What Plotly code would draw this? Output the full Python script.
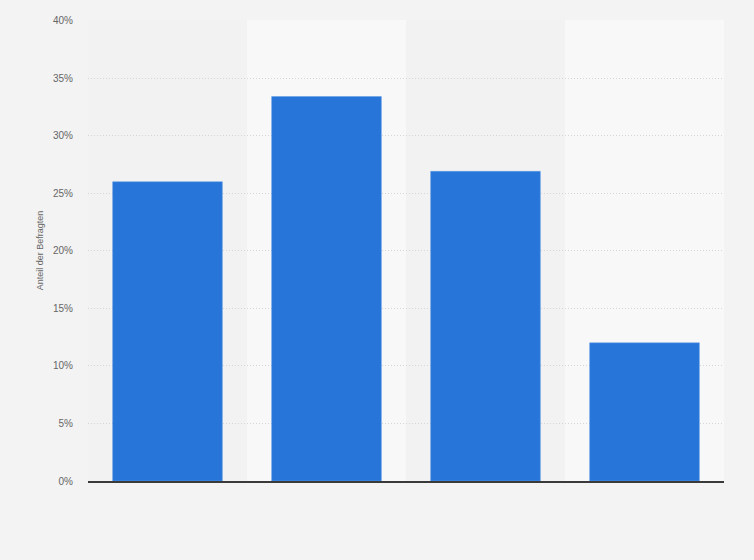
import plotly.graph_objects as go

# categories are not labelled in the source picture
categories = ["Gruppe 1", "Gruppe 2", "Gruppe 3", "Gruppe 4"]
shares = [26.0, 33.4, 26.9, 12.0]
y_ticks = [0, 5, 10, 15, 20, 25, 30, 35, 40]
y_tick_labels = ["0%", "5%", "10%", "15%", "20%", "25%", "30%", "35%", "40%"]

fig = go.Figure()

fig.add_trace(go.Bar(
    x=categories,
    y=shares,
    marker=dict(color="#2775d9", line=dict(color="#5f9be6", width=0.5)),
    width=0.69,
    hovertemplate="%{y:.1f}%<extra></extra>",
))

## alternating column bands behind the bars
for i, cat in enumerate(categories):
    fig.add_shape(
        type="rect", xref="x", yref="paper",
        x0=i - 0.5, x1=i + 0.5, y0=0, y1=1,
        fillcolor="#f2f2f2" if i % 2 == 0 else "#f8f8f8",
        line=dict(width=0), layer="below",
    )

fig.update_layout(
    width=754, height=560,
    margin=dict(l=88, r=30, t=20, b=79),
    paper_bgcolor="#f3f3f3",
    plot_bgcolor="#f3f3f3",
    showlegend=False,
    bargap=0.31,
    font=dict(family="Arial, Liberation Sans, sans-serif", color="#666666"),
)

fig.update_xaxes(
    showticklabels=False,
    showgrid=False,
    showline=True, linecolor="#3a3a3a", linewidth=1.5,
    ticks="",
    range=[-0.5, 3.5],
)

fig.update_yaxes(
    range=[0, 40.05],
    tickvals=y_ticks,
    ticktext=y_tick_labels,
    tickfont=dict(size=10, color="#666666"),
    showgrid=True, gridcolor="#d6d6d6", griddash="1px,2px", gridwidth=1,
    zeroline=False,
    ticks="", ticklabelstandoff=14,
    title=dict(text="Anteil der Befragten", font=dict(size=9, color="#666666"), standoff=7),
)

# drop the default page margin so the figure sits flush in the window
fig.write_html(
    "out.html",
    config={"displayModeBar": False},
    post_script="document.body.style.margin='0';",
)
